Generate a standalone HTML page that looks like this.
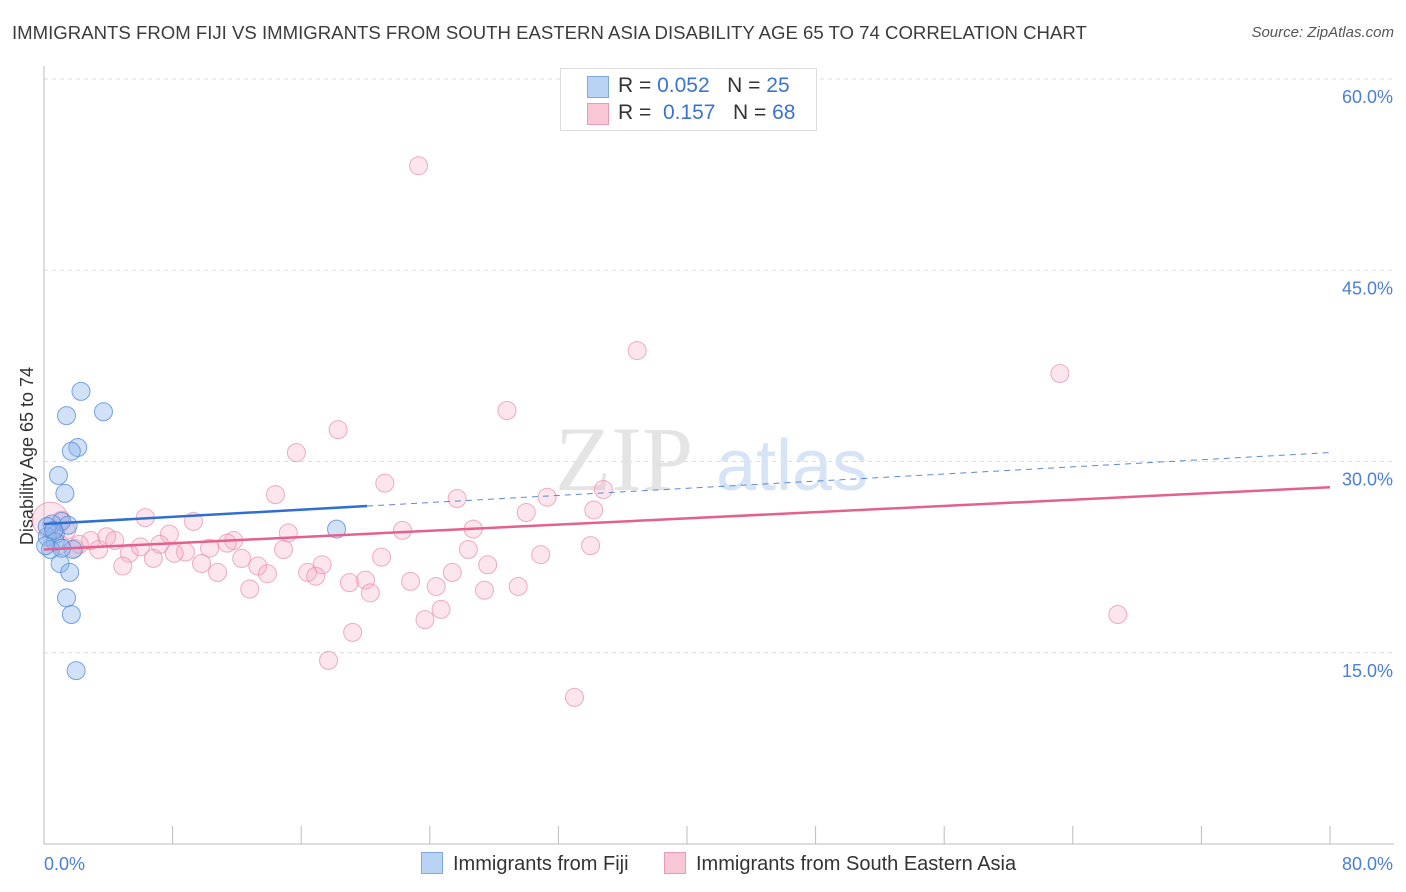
<!DOCTYPE html>
<html><head><meta charset="utf-8">
<style>
body{margin:0;background:#fff;font-family:"Liberation Sans",sans-serif;}
#wrap{position:relative;width:1406px;height:892px;overflow:hidden;}
.t{position:absolute;white-space:nowrap;}
</style></head>
<body>
<div id="wrap">
<div class="t" style="left:12px;top:22px;font-size:18.6px;color:#3c3c3c;">IMMIGRANTS FROM FIJI VS IMMIGRANTS FROM SOUTH EASTERN ASIA DISABILITY AGE 65 TO 74 CORRELATION CHART</div>
<div class="t" style="right:12px;top:24px;font-size:15px;color:#555;font-style:italic;">Source: ZipAtlas.com</div>
<svg id="svg" width="1406" height="892" style="position:absolute;left:0;top:0"></svg>
</div>
<script>
const xTicks=[0,8,16,24,32,40,48,56,64,72,80];
const yTicks=[15,30,45,60];
const yTickLabels=["15.0%","30.0%","45.0%","60.0%"];
const fijiX=[2.3,3.7,1.4,2.1,1.7,0.9,1.3,1.1,1.5,0.5,0.7,0.2,0.7,0.4,1.0,1.8,1.6,1.4,1.7,2.0,18.2,0.2,1.1,0.6,0.1];
const fijiY=[35.5,33.9,33.6,31.1,30.8,28.9,27.5,25.3,25.0,25.1,24.3,24.1,23.7,23.1,22.0,23.1,21.3,19.3,18.0,13.6,24.7,24.9,23.2,24.6,23.4];
const seaX=[23.3,36.9,63.2,28.8,18.3,15.7,21.2,14.4,25.7,31.3,34.8,30.0,34.2,6.3,9.3,22.3,26.7,15.2,7.8,11.8,3.9,2.9,1.0,7.2,11.4,10.3,5.3,14.9,26.4,34.0,30.9,21.0,8.8,8.1,6.8,12.3,4.9,9.8,13.3,17.3,27.6,10.8,13.9,16.4,16.9,25.4,20.0,19.0,22.8,24.4,27.4,29.5,12.8,20.3,24.7,23.7,19.2,17.7,33.0,66.8,1.9,3.4,4.4,6.0,1.4,2.2,1.1,0.4];
const seaY=[53.2,38.7,36.9,34.0,32.5,30.7,28.3,27.4,27.1,27.2,27.8,26.0,26.2,25.6,25.3,24.6,24.7,24.4,24.3,23.8,24.1,23.8,23.5,23.5,23.6,23.2,22.8,23.1,23.1,23.4,22.7,22.5,22.9,22.8,22.4,22.4,21.8,22.0,21.8,21.9,21.9,21.3,21.2,21.3,21.0,21.3,20.7,20.5,20.6,20.2,19.9,20.2,20.0,19.7,18.4,17.6,16.6,14.4,11.5,18.0,23.2,23.1,23.8,23.3,24.6,23.5,25.4,25.4];
const fijiTrend=[25.1,0.07]; // intercept, slope
const fijiSolidEnd=20.1;
const seaTrend=[23.1,0.061];
const NS="http://www.w3.org/2000/svg";
const svg=document.getElementById('svg');
const X0=44,X1=1330,Y0=844,YTOP=79;
const sx=v=>X0+(v/80)*(X1-X0);
const sy=v=>Y0-(v/60)*(Y0-YTOP);
function el(tag,attrs,parent){const e=document.createElementNS(NS,tag);for(const k in attrs)e.setAttribute(k,attrs[k]);(parent||svg).appendChild(e);return e;}
yTicks.forEach((v,i)=>{
 const g=el('line',{x1:X0,x2:1394,y1:sy(v),y2:sy(v),stroke:'#ddd','stroke-dasharray':'4,4'});
 
 
 const t=el('text',{x:1393,y:sy(v)+24,'text-anchor':'end','font-size':18,fill:'#4a7fd4','font-family':'Liberation Sans'});
 t.textContent=yTickLabels[i];
 
 
});
const ya=el('line',{x1:X0,x2:X0,y1:66,y2:Y0,stroke:'#bbb'});


const xa=el('line',{x1:X0,x2:1394,y1:Y0,y2:Y0,stroke:'#bbb'});


xTicks.forEach(v=>{const tk=el('line',{x1:sx(v),x2:sx(v),y1:826,y2:Y0,stroke:'#bbb'});
 
 });
const xl0=el('text',{x:44,y:870,'font-size':18,fill:'#4a7fd4','font-family':'Liberation Sans'});xl0.textContent='0.0%';


const xl1=el('text',{x:1393,y:870,'text-anchor':'end','font-size':18,fill:'#4a7fd4','font-family':'Liberation Sans'});xl1.textContent='80.0%';


const yt=el('text',{x:33,y:456,'text-anchor':'middle','font-size':18,fill:'#333','font-family':'Liberation Sans',transform:'rotate(-90 33 456)'});yt.textContent='Disability Age 65 to 74';


const wm=el('text',{x:555,y:490,'font-size':92,fill:'#e4e4e4','font-family':'Liberation Serif'});wm.textContent='ZIP';


const wm2=el('text',{x:716,y:490,'font-size':72,fill:'#d6e4f5','font-family':'Liberation Sans'});wm2.textContent='atlas';


seaX.forEach((x,i)=>{const r=(i===seaX.length-1)?18:9;
 const c=el('circle',{cx:sx(x),cy:sy(seaY[i]),r:r,fill:'rgba(244,170,195,0.3)',stroke:'rgba(232,140,170,0.7)','stroke-width':1});
 
 });
fijiX.forEach((x,i)=>{
 const c=el('circle',{cx:sx(x),cy:sy(fijiY[i]),r:9,fill:'rgba(140,180,235,0.4)',stroke:'rgba(80,135,215,0.75)','stroke-width':1});
 
 });
const f=x=>fijiTrend[0]+fijiTrend[1]*x, s=x=>seaTrend[0]+seaTrend[1]*x;
const l1=el('line',{x1:sx(0),y1:sy(f(0)),x2:sx(fijiSolidEnd),y2:sy(f(fijiSolidEnd)),stroke:'#2f6fd0','stroke-width':2.5});


const l2=el('line',{x1:sx(fijiSolidEnd),y1:sy(f(fijiSolidEnd)),x2:sx(80),y2:sy(f(80)),stroke:'#5a8ad6','stroke-width':1,'stroke-dasharray':'6,5'});


const l3=el('line',{x1:sx(0),y1:sy(s(0)),x2:sx(80),y2:sy(s(80)),stroke:'#e4608e','stroke-width':2.5});


</script>
<div class="t" style="left:560px;top:68px;width:255px;height:61px;border:1px solid #ddd;background:#fff;font-size:21px;color:#333;">
 <div style="position:absolute;left:26px;top:7px;width:20px;height:20px;background:#b9d3f5;border:1px solid #7ea8e2;"></div>
 <div style="position:absolute;left:57px;top:5px;">R = <span style="color:#3a74d0">0.052</span>&nbsp;&nbsp;&nbsp;N = <span style="color:#3a74d0">25</span></div>
 <div style="position:absolute;left:26px;top:34px;width:20px;height:20px;background:#f9c6d6;border:1px solid #eb9ab6;"></div>
 <div style="position:absolute;left:57px;top:32px;">R = &nbsp;<span style="color:#3a74d0">0.157</span>&nbsp;&nbsp;&nbsp;N = <span style="color:#3a74d0">68</span></div>
</div>
<div class="t" style="left:421px;top:852px;font-size:20px;color:#333;"><span style="display:inline-block;width:20px;height:20px;background:#b9d3f5;border:1px solid #7ea8e2;vertical-align:-4px;margin-right:10px;"></span>Immigrants from Fiji</div>
<div class="t" style="left:664px;top:852px;font-size:20px;color:#333;"><span style="display:inline-block;width:20px;height:20px;background:#f9c6d6;border:1px solid #eb9ab6;vertical-align:-4px;margin-right:10px;"></span>Immigrants from South Eastern Asia</div>
</body></html>
